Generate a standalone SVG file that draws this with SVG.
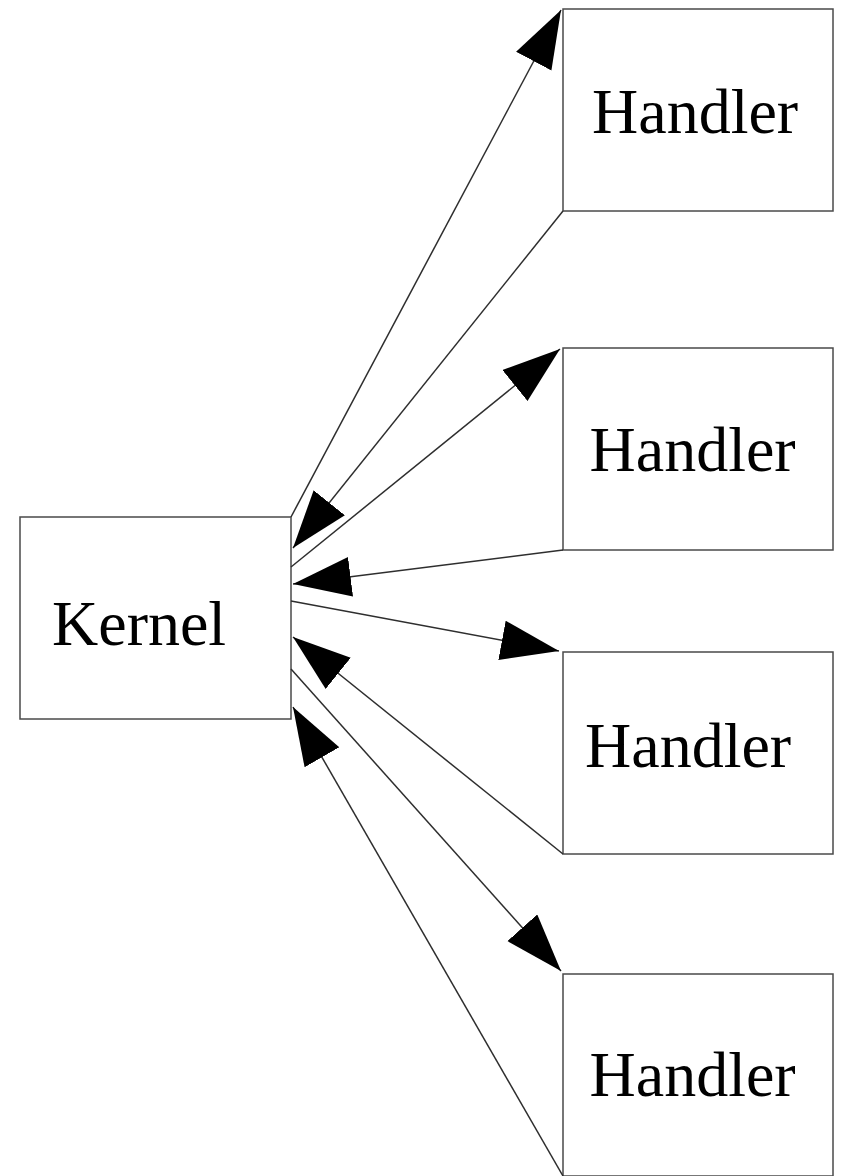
<svg xmlns="http://www.w3.org/2000/svg" width="842" height="1176" viewBox="0 0 842 1176">
  <style>
    .box { fill: #ffffff; stroke: #4a4a4a; stroke-width: 1.5; }
    .label { font-family: "Liberation Serif", "Times New Roman", serif; font-size: 64px; fill: #000000; }
    .edge { fill: none; stroke: #2e2e2e; stroke-width: 1.5; marker-end: url(#arrow); }
  </style>
  <defs>
    <marker id="arrow" markerUnits="userSpaceOnUse" markerWidth="60" markerHeight="42" refX="58" refY="20" orient="auto">
      <path d="M0,0 L58,20 L0,40 Z" fill="#000000"/>
    </marker>
  </defs>
  <rect width="842" height="1176" fill="#ffffff"/>

  <g id="kernel">
    <rect class="box" x="20" y="517" width="271" height="202"/>
    <text class="label" x="52" y="645">Kernel</text>
  </g>

  <g id="handler1">
    <rect class="box" x="563" y="9" width="270" height="202"/>
    <text class="label" x="592" y="133">Handler</text>
  </g>

  <g id="handler2">
    <rect class="box" x="563" y="348" width="270" height="202"/>
    <text class="label" x="589.5" y="471">Handler</text>
  </g>

  <g id="handler3">
    <rect class="box" x="563" y="652" width="270" height="202"/>
    <text class="label" x="585" y="767">Handler</text>
  </g>

  <g id="handler4">
    <rect class="box" x="563" y="974" width="270" height="202"/>
    <text class="label" x="589.5" y="1096">Handler</text>
  </g>

  <g id="connectors">
    <line class="edge" x1="291" y1="517" x2="561" y2="10"/>
    <line class="edge" x1="563" y1="211" x2="293" y2="548"/>
    <line class="edge" x1="291" y1="567" x2="560" y2="349"/>
    <line class="edge" x1="563" y1="550" x2="293" y2="584"/>
    <line class="edge" x1="291" y1="601" x2="559" y2="651"/>
    <line class="edge" x1="563" y1="854" x2="293" y2="637"/>
    <line class="edge" x1="291" y1="669" x2="561" y2="971"/>
    <line class="edge" x1="563" y1="1176" x2="293" y2="707"/>
  </g>
</svg>
